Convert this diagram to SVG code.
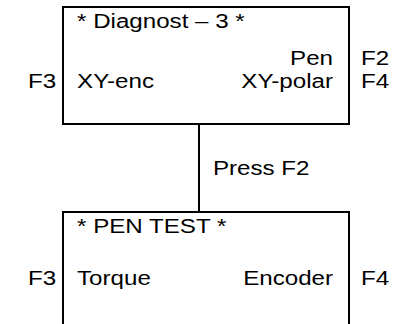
<svg xmlns="http://www.w3.org/2000/svg" width="394" height="324" viewBox="0 0 394 324">
  <style>
    text { font-family: "Liberation Sans", Arial, sans-serif; font-size: 21px; fill: #000; }
    .box { fill: #fff; stroke: #000; stroke-width: 2; }
    .link { stroke: #000; stroke-width: 2; fill: none; }
    .end { text-anchor: end; }
  </style>
  <rect width="394" height="324" fill="#fff"/>
  <!-- labels use a slightly widened face: x values below are in the scaled (÷1.15) space -->
  <g id="connectors">
    <line class="link" x1="199" y1="124" x2="199" y2="212"/>
    <g transform="scale(1.15 1)">
      <text x="185.2" y="175">Press F2</text>
    </g>
  </g>
  <g id="diagnost">
    <rect class="box" x="63" y="7" width="286" height="117"/>
    <g transform="scale(1.15 1)">
      <text x="67" y="28">* Diagnost – 3 *</text>
      <text class="end" x="289.6" y="65">Pen</text>
      <text x="67" y="88.5">XY-enc</text>
      <text class="end" x="289.6" y="88.5">XY-polar</text>
      <text x="24.4" y="88.5">F3</text>
      <text x="313.9" y="65">F2</text>
      <text x="313.9" y="88.5">F4</text>
    </g>
  </g>
  <g id="pentest">
    <path class="box" d="M63 330 V212 H349 V330"/>
    <g transform="scale(1.15 1)">
      <text x="67" y="233.5">* PEN TEST *</text>
      <text x="67" y="285">Torque</text>
      <text class="end" x="289.6" y="285">Encoder</text>
      <text x="24.4" y="285">F3</text>
      <text x="313.9" y="285">F4</text>
    </g>
  </g>
</svg>
